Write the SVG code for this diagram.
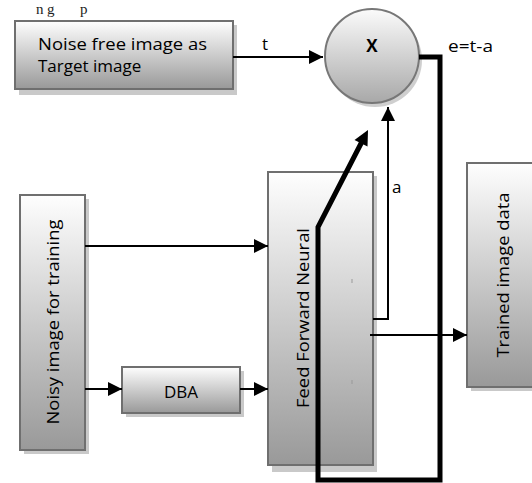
<svg xmlns="http://www.w3.org/2000/svg" width="532" height="483" viewBox="0 0 532 483">
  <defs>
    <linearGradient id="boxFill" x1="0" y1="0" x2="0" y2="1">
      <stop offset="0" stop-color="#fefefe"/>
      <stop offset="1" stop-color="#999999"/>
    </linearGradient>
    <linearGradient id="circleFill" x1="0" y1="0" x2="0" y2="1">
      <stop offset="0" stop-color="#fbfbfb"/>
      <stop offset="1" stop-color="#a8a8a8"/>
    </linearGradient>
    <marker id="arrow" markerUnits="userSpaceOnUse" markerWidth="14" markerHeight="14" refX="14" refY="7" orient="auto">
      <path d="M0,0 L14,7 L0,14 z" fill="#000"/>
    </marker>
  </defs>
  <style>
    .shadow { fill: #c9c9c9; }
    .box { fill: url(#boxFill); stroke: #6f6f6f; stroke-width: 2; }
    .lbl { font-family: "Open Sans", "Noto Sans", sans-serif; font-size: 17px; fill: #000; }
    .thin { fill: none; stroke: #000; stroke-width: 2; }
    .thick { fill: none; stroke: #000; stroke-width: 5; stroke-linejoin: miter; }
  </style>

  <rect width="532" height="483" fill="#fff"/>

  <!-- fragment of the running page text above the figure -->
  <text font-family="Liberation Serif, serif" font-size="15" fill="#222" y="14"><tspan x="36">n</tspan><tspan x="47">g</tspan><tspan x="80">p</tspan></text>

  <g id="target">
    <rect class="shadow" x="19" y="25" width="218" height="70"/>
    <rect class="box" x="15" y="21" width="218" height="68"/>
    <text class="lbl" x="38" y="50" textLength="169" lengthAdjust="spacingAndGlyphs">Noise free image as</text>
    <text class="lbl" x="38" y="72">Target image</text>
  </g>

  <g id="error-node">
    <circle cx="375" cy="60" r="47" fill="#cfcfcf"/>
    <circle cx="372" cy="56" r="47" fill="url(#circleFill)" stroke="#777" stroke-width="2"/>
    <text x="372" y="52" text-anchor="middle" font-family="Open Sans, sans-serif" font-weight="bold" font-size="17" fill="#000">X</text>
  </g>

  <g id="noisy">
    <rect class="shadow" x="24" y="199" width="65" height="255"/>
    <rect class="box" x="20" y="195" width="65" height="255"/>
    <text class="lbl" transform="translate(59,322) rotate(-90)" text-anchor="middle" textLength="205" lengthAdjust="spacingAndGlyphs">Noisy image for training</text>
  </g>

  <g id="dba">
    <rect class="shadow" x="126" y="371" width="118" height="46"/>
    <rect class="box" x="122" y="367" width="118" height="46"/>
    <text class="lbl" x="181" y="398" text-anchor="middle">DBA</text>
  </g>

  <g id="ffn">
    <rect class="shadow" x="272" y="176" width="105" height="296"/>
    <rect class="box" x="268" y="172" width="105" height="293"/>
    <text class="lbl" transform="translate(309,318) rotate(-90)" text-anchor="middle" textLength="180" lengthAdjust="spacingAndGlyphs">Feed Forward Neural</text>
    <line x1="352" y1="279" x2="352" y2="283" stroke="#999" stroke-width="1"/>
    <line x1="352" y1="380" x2="352" y2="384" stroke="#999" stroke-width="1"/>
  </g>

  <g id="trained">
    <rect class="shadow" x="471" y="167" width="80" height="224"/>
    <rect class="box" x="467" y="163" width="80" height="224"/>
    <text class="lbl" transform="translate(509,275) rotate(-90)" text-anchor="middle" textLength="165" lengthAdjust="spacingAndGlyphs">Trained image data</text>
  </g>

  <g id="connectors">
    <path class="thin" d="M233,57 H323" marker-end="url(#arrow)"/>
    <text class="lbl" x="262" y="50">t</text>
    <path class="thin" d="M85,246 H268" marker-end="url(#arrow)"/>
    <path class="thin" d="M85,389 H122" marker-end="url(#arrow)"/>
    <path class="thin" d="M240,389 H268" marker-end="url(#arrow)"/>
    <path class="thin" d="M370,335 H467" marker-end="url(#arrow)"/>
    <path class="thin" d="M373,319 H388 V107" marker-end="url(#arrow)"/>
    <text class="lbl" x="392" y="193">a</text>
    <!-- error feedback loop -->
    <path class="thick" d="M419,57 H440 V480 H318 V227 L361.5,142.5"/>
    <polygon points="368,130 367.5,146.5 354.5,140" fill="#000"/>
    <text class="lbl" x="448" y="52" textLength="45" lengthAdjust="spacingAndGlyphs">e=t-a</text>
  </g>
</svg>
